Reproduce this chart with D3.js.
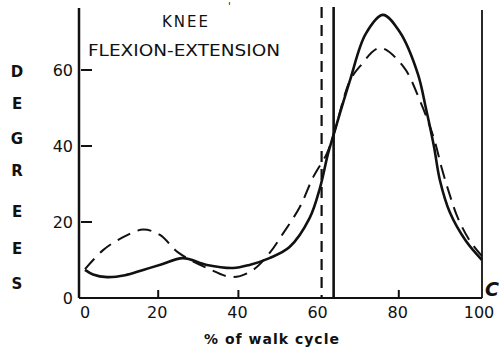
<!DOCTYPE html>
<html>
<head>
<meta charset="utf-8">
<script src="https://cdn.jsdelivr.net/npm/d3@7"></script>
<style>
  body { margin: 0; background: #fff; }
  text { font-family: "DejaVu Sans", sans-serif; fill: #111; }
</style>
</head>
<body>
<svg id="graph"></svg>
<script>
// knee flexion-extension over the walk cycle
var pctTicks = [0, 20, 40, 60, 80, 100];
var degTicks = [0, 20, 40, 60];
var yLetters = ["D", "E", "G", "R", "E", "E", "S"];

// solid curve [% of cycle, degrees]
var solidCurve = [
    [1, 7.4], [3, 6.2], [6.5, 5.5], [11, 6], [15.5, 7.4], [20, 8.8], [25.4, 10.5],
    [31.4, 8.7], [37.9, 7.9], [42, 8.7], [47, 10.5], [52, 13.4], [57, 21],
    [59.6, 29], [61.6, 38], [63, 43], [67, 57], [71, 69.5], [75.3, 74.5],
    [79.5, 70], [84, 59], [86, 50], [88, 40], [89.5, 31], [92, 22.5], [96, 15], [100, 10]
];
// dashed curve
var dashedCurve = [
    [1, 7.6], [5.5, 12.6], [10.5, 16], [15.5, 18], [19.7, 16.6], [24.2, 12],
    [31.4, 7.9], [37.9, 5.5], [42.9, 7.4], [47, 11.8], [50.4, 17], [54.6, 24],
    [57.9, 31.8], [61.3, 38], [63, 43], [67, 57], [69.6, 61], [74.5, 65.8],
    [80.3, 61], [84.5, 52], [88, 42], [90, 34], [92, 27], [94, 21], [97, 15], [100, 11]
];
var solidMarker = 63;   // vertical solid line (% cycle)
var dashedMarker = 60;  // vertical dashed line (% cycle)

var width = 499, height = 356;
var svg = d3.select("#graph")
    .attr("width", width)
    .attr("height", height);

var x = d3.scaleLinear().domain([0, 100]).range([81, 482]);
var y = d3.scaleLinear().domain([0, 60]).range([298, 70]);

// axes
svg.append("line")
    .attr("x1", 79).attr("x2", 79)
    .attr("y1", 8).attr("y2", y(0))
    .attr("stroke", "#111").attr("stroke-width", 2.5);
svg.append("line")
    .attr("x1", 79).attr("x2", x(100))
    .attr("y1", y(0)).attr("y2", y(0))
    .attr("stroke", "#111").attr("stroke-width", 2.2);

svg.selectAll(".ytick")
    .data(degTicks.filter(function (d) { return d > 0; }))
    .enter().append("line")
    .attr("x1", 81).attr("x2", 92)
    .attr("y1", function (d) { return y(d); })
    .attr("y2", function (d) { return y(d); })
    .attr("stroke", "#111").attr("stroke-width", 2);

svg.selectAll(".ylab")
    .data(degTicks)
    .enter().append("text")
    .attr("x", 73)
    .attr("y", function (d) { return y(d) + 6; })
    .attr("text-anchor", "end")
    .attr("font-size", 16)
    .text(function (d) { return d; });

svg.selectAll(".xtick")
    .data([20, 40, 80])
    .enter().append("line")
    .attr("x1", function (d) { return x(d) - 3; })
    .attr("x2", function (d) { return x(d) - 3; })
    .attr("y1", y(0)).attr("y2", y(0) - 8)
    .attr("stroke", "#111").attr("stroke-width", 2);

svg.selectAll(".xlab")
    .data(pctTicks)
    .enter().append("text")
    .attr("x", function (d) { return x(d) + (d === 0 ? 4 : d === 100 ? -3 : -4); })
    .attr("y", 318)
    .attr("text-anchor", "middle")
    .attr("font-size", 16)
    .text(function (d) { return d; });

svg.selectAll(".letter")
    .data(yLetters)
    .enter().append("text")
    .attr("x", 17)
    .attr("y", function (d, i) { return [77, 109, 144, 176, 217, 254, 289][i]; })
    .attr("text-anchor", "middle")
    .attr("font-size", 15)
    .attr("font-weight", "bold")
    .text(function (d) { return d; });

// vertical markers
svg.append("line")
    .attr("x1", x(dashedMarker)).attr("x2", x(dashedMarker))
    .attr("y1", 7).attr("y2", y(0))
    .attr("stroke", "#111").attr("stroke-width", 2.2)
    .attr("stroke-dasharray", "11,7");
svg.append("line")
    .attr("x1", x(solidMarker)).attr("x2", x(solidMarker))
    .attr("y1", 7).attr("y2", y(0))
    .attr("stroke", "#111").attr("stroke-width", 2.6);
svg.append("line")
    .attr("x1", x(100)).attr("x2", x(100))
    .attr("y1", 10).attr("y2", y(0))
    .attr("stroke", "#111").attr("stroke-width", 1.8);

// curves
var line = d3.line()
    .x(function (d) { return x(d[0]); })
    .y(function (d) { return y(d[1]); })
    .curve(d3.curveCatmullRom.alpha(0.5));

svg.append("path")
    .attr("d", line(dashedCurve))
    .attr("fill", "none")
    .attr("stroke", "#111").attr("stroke-width", 2)
    .attr("stroke-dasharray", "14,8");
svg.append("path")
    .attr("d", line(solidCurve))
    .attr("fill", "none")
    .attr("stroke", "#111").attr("stroke-width", 2.6);

// titles
svg.append("text")
    .attr("x", 186).attr("y", 27)
    .attr("text-anchor", "middle")
    .attr("font-size", 15)
    .attr("letter-spacing", 2)
    .text("KNEE");
svg.append("text")
    .attr("x", 88).attr("y", 56)
    .attr("font-size", 15)
    .attr("textLength", 192)
    .attr("lengthAdjust", "spacingAndGlyphs")
    .text("FLEXION-EXTENSION");
svg.append("text")
    .attr("x", 228).attr("y", 10)
    .attr("font-size", 10)
    .text("'");

svg.append("text")
    .attr("x", 272).attr("y", 344)
    .attr("text-anchor", "middle")
    .attr("font-size", 14)
    .attr("font-weight", "bold")
    .attr("letter-spacing", 1)
    .text("% of walk cycle");

svg.append("text")
    .attr("x", 485).attr("y", 296)
    .attr("font-size", 19)
    .attr("font-weight", "bold")
    .attr("font-style", "italic")
    .text("C");
</script>
</body>
</html>
